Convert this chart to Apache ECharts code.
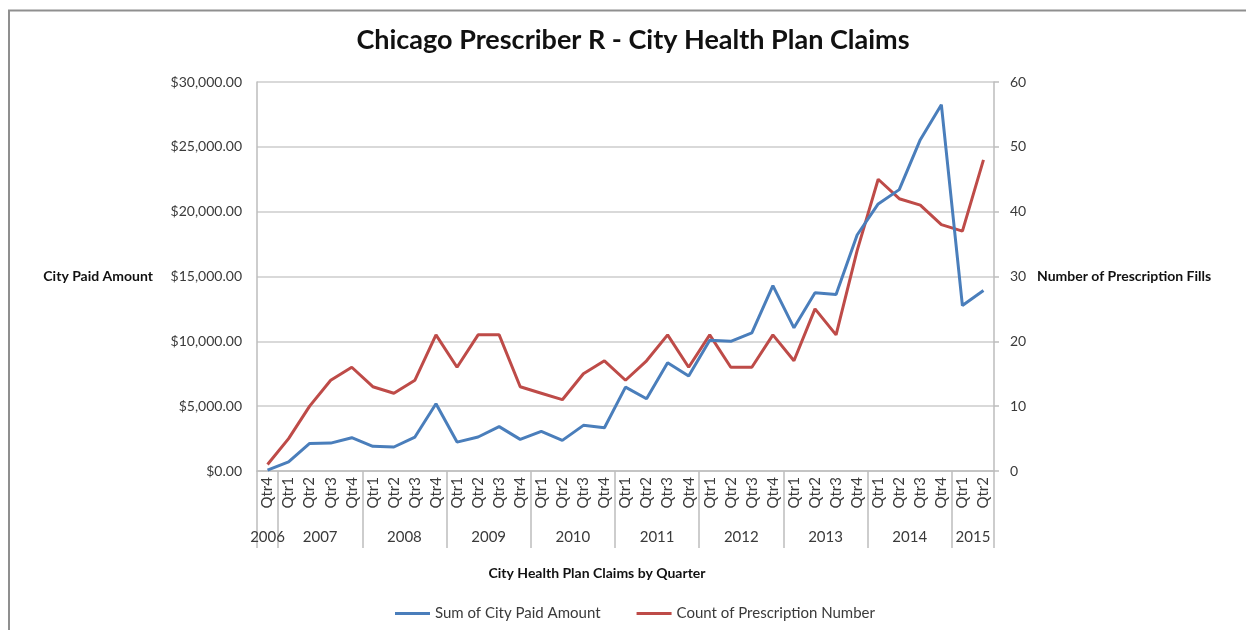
<!DOCTYPE html>
<html>
<head>
<meta charset="utf-8">
<script src="https://cdn.jsdelivr.net/npm/echarts@6/dist/echarts.min.js"></script>
<style>
  html, body { margin: 0; padding: 0; background: #ffffff; }
  #chart { width: 1246px; height: 630px; }
</style>
</head>
<body>
<div id="chart"></div>
<script>
// ---- data ----
const years = ['2006', '2007', '2008', '2009', '2010', '2011', '2012', '2013', '2014', '2015'];
const quartersPerYear = [1, 4, 4, 4, 4, 4, 4, 4, 4, 2];
const quarterLabels = [
  'Qtr4',
  'Qtr1', 'Qtr2', 'Qtr3', 'Qtr4',
  'Qtr1', 'Qtr2', 'Qtr3', 'Qtr4',
  'Qtr1', 'Qtr2', 'Qtr3', 'Qtr4',
  'Qtr1', 'Qtr2', 'Qtr3', 'Qtr4',
  'Qtr1', 'Qtr2', 'Qtr3', 'Qtr4',
  'Qtr1', 'Qtr2', 'Qtr3', 'Qtr4',
  'Qtr1', 'Qtr2', 'Qtr3', 'Qtr4',
  'Qtr1', 'Qtr2', 'Qtr3', 'Qtr4',
  'Qtr1', 'Qtr2'
];
const paidAmount = [
  60,
  700, 2130, 2150, 2570,
  1900, 1850, 2620, 5190,
  2230, 2620, 3420, 2440,
  3060, 2360, 3520, 3340,
  6470, 5570, 8350, 7320,
  10090, 10000, 10660, 14300,
  11040, 13740, 13610, 18200,
  20600, 21700, 25550, 28250,
  12760, 13920
];
const prescriptionCount = [
  1,
  5, 10, 14, 16,
  13, 12, 14, 21,
  16, 21, 21, 13,
  12, 11, 15, 17,
  14, 17, 21, 16,
  21, 16, 16, 21,
  17, 25, 21, 34,
  45, 42, 41, 38,
  37, 48
];
const leftTicks = { min: 0, max: 30000, step: 5000 };
const rightTicks = { min: 0, max: 60, step: 10 };

// ---- derived year-level positions (in category units) ----
const yearBoundaries = [0];
const yearCenters = [];
quartersPerYear.forEach(function (n) {
  const start = yearBoundaries[yearBoundaries.length - 1];
  yearCenters.push(start + n / 2);
  yearBoundaries.push(start + n);
});
const totalCats = quarterLabels.length;

const FONT = 'Lato, "Open Sans", sans-serif';
const TXT = '#3a3a3a';
const GRID = '#cdcdcd';
const BLUE = '#4a7ebb';
const RED = '#be4b48';

const chart = echarts.init(document.getElementById('chart'), null, { renderer: 'canvas' });
chart.setOption({
  backgroundColor: '#ffffff',
  animation: false,
  textStyle: { fontFamily: FONT },
  title: {
    text: 'Chicago Prescriber R - City Health Plan Claims',
    left: 633,
    textAlign: 'center',
    top: 27,
    padding: 0,
    textStyle: { fontFamily: FONT, fontSize: 27, fontWeight: 'bold', color: '#111' }
  },
  graphic: [{
    type: 'rect',
    shape: { x: 9, y: 10.5, width: 1400, height: 800 },
    style: { fill: 'none', stroke: '#8f8f8f', lineWidth: 2 },
    silent: true,
    z: 100
  }],
  legend: {
    left: 390,
    top: 601,
    itemWidth: 35,
    itemHeight: 3,
    itemGap: 36,
    icon: 'rect',
    textStyle: { fontFamily: FONT, fontSize: 15, color: TXT },
    data: [
      { name: 'Sum of City Paid Amount', icon: 'rect', itemStyle: { color: BLUE } },
      { name: 'Count of Prescription Number', icon: 'rect', itemStyle: { color: RED } }
    ]
  },
  grid: {
    left: 257, right: 252, top: 82, bottom: 159,
    containLabel: false,
    outerBoundsMode: 'none'
  },
  xAxis: [{
    type: 'category',
    data: quarterLabels,
    boundaryGap: true,
    position: 'bottom',
    axisLine: { show: true, lineStyle: { color: '#bdbdbd', width: 1.5 } },
    axisTick: { show: false },
    axisLabel: {
      interval: 0, rotate: 90, margin: 6,
      fontFamily: FONT, fontSize: 15, color: TXT
    },
    splitLine: { show: false },
    name: 'City Health Plan Claims by Quarter',
    nameLocation: 'middle',
    nameGap: 95,
    nameTextStyle: {
      fontFamily: FONT, fontSize: 14, fontWeight: 'bold', color: '#111',
      padding: [0, 57, 0, 0]
    }
  }, {
    type: 'value',
    min: 0,
    max: totalCats,
    position: 'bottom',
    axisLine: { show: false },
    splitLine: { show: false },
    axisTick: {
      show: true,
      customValues: yearBoundaries,
      length: 77,
      lineStyle: { color: '#bdbdbd', width: 1.5 }
    },
    axisLabel: {
      show: true,
      customValues: yearCenters,
      margin: 59,
      fontFamily: FONT, fontSize: 15, color: TXT,
      formatter: function (v) {
        const i = yearCenters.indexOf(v);
        return i >= 0 ? years[i] : '';
      }
    }
  }],
  yAxis: [{
    type: 'value',
    min: leftTicks.min, max: leftTicks.max, interval: leftTicks.step,
    position: 'left',
    axisLine: { show: true, lineStyle: { color: '#bdbdbd', width: 1.5 } },
    axisTick: { show: false },
    splitLine: { show: true, lineStyle: { color: GRID, width: 1.5 } },
    axisLabel: {
      margin: 15,
      fontFamily: FONT, fontSize: 14, color: TXT,
      formatter: function (v) {
        return '$' + v.toLocaleString('en-US', { minimumFractionDigits: 2, maximumFractionDigits: 2 });
      }
    },
    name: 'City Paid Amount',
    nameLocation: 'middle',
    nameRotate: 0,
    nameGap: 104,
    nameTextStyle: { fontFamily: FONT, fontSize: 14, fontWeight: 'bold', color: '#111' }
  }, {
    type: 'value',
    min: rightTicks.min, max: rightTicks.max, interval: rightTicks.step,
    position: 'right',
    axisLine: { show: true, lineStyle: { color: '#bdbdbd', width: 1.5 } },
    axisTick: { show: true, length: 5, lineStyle: { color: '#bdbdbd', width: 1.5 } },
    splitLine: { show: false },
    axisLabel: {
      margin: 16,
      fontFamily: FONT, fontSize: 14, color: TXT
    },
    name: 'Number of Prescription Fills',
    nameLocation: 'middle',
    nameRotate: 0,
    nameGap: 43,
    nameTextStyle: { fontFamily: FONT, fontSize: 14, fontWeight: 'bold', color: '#111' }
  }],
  series: [{
    name: 'Sum of City Paid Amount',
    type: 'line',
    xAxisIndex: 0,
    yAxisIndex: 0,
    data: paidAmount,
    symbol: 'none',
    lineStyle: { color: BLUE, width: 3 },
    itemStyle: { color: BLUE },
    z: 3
  }, {
    name: 'Count of Prescription Number',
    type: 'line',
    xAxisIndex: 0,
    yAxisIndex: 1,
    data: prescriptionCount,
    symbol: 'none',
    lineStyle: { color: RED, width: 3 },
    itemStyle: { color: RED },
    z: 2
  }]
});
</script>
</body>
</html>
